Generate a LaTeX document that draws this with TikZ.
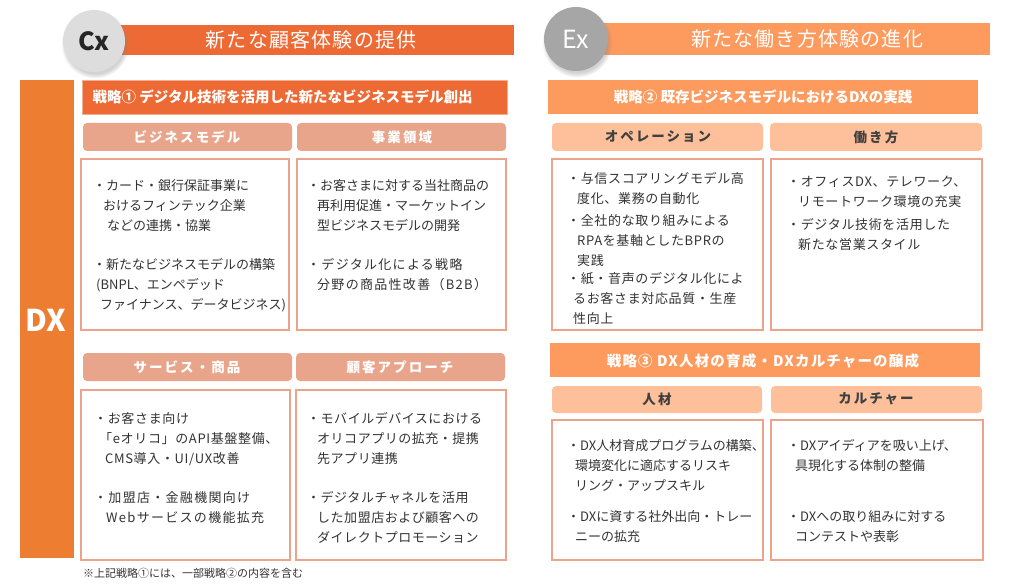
\documentclass[tikz,border=0pt]{standalone}
\usepackage{fontspec}
\setmainfont{Noto Sans CJK JP}
\usetikzlibrary{shadows}
\definecolor{cxbar}{HTML}{EE6A35}
\definecolor{dxbar}{HTML}{ED7D31}
\definecolor{salmon}{HTML}{E8A58B}
\definecolor{boxline}{HTML}{EBA48B}
\definecolor{exbar}{HTML}{FD9A5E}
\definecolor{peach}{HTML}{FEC09A}
\definecolor{subtext}{HTML}{404040}
\definecolor{bodytext}{HTML}{333333}
\definecolor{cxcircle}{HTML}{DDDDDD}
\definecolor{excircle}{HTML}{A6A6A6}
\newcommand\lsp[1]{\addfontfeatures{LetterSpace=#1}}
\begin{document}
\begin{tikzpicture}[x=1pt,y=-1pt,
  bodytxt/.style={anchor=north west, inner sep=0pt, align=left, text=bodytext, font=\fontsize{13}{20}\selectfont},
  subbox/.style={rounded corners=4pt, draw=none},
  contentbox/.style={draw=boxline, line width=2.8pt, fill=white},
  subwhite/.style={text=white, font=\fontsize{13.5}{16}\selectfont\bfseries\lsp{15}},
  subgray/.style={text=subtext, font=\fontsize{13.5}{16}\selectfont\bfseries\lsp{15}},
  strattxt/.style={text=white, font=\fontsize{14.5}{17}\selectfont\bfseries},
  titletxt/.style={text=white, font=\fontsize{20}{24}\selectfont\lsp{6}},
  circ/.style={circle, inner sep=0pt, minimum size=#1, circular drop shadow={shadow xshift=1pt, shadow yshift=-3pt, opacity=0.35}},
]
\useasboundingbox (0,0) rectangle (1011,588);
\fill[white] (0,0) rectangle (1011,588);

% ===== Left (Cx) header =====
\fill[cxbar] (110,25) rectangle (514,55);
\node[titletxt] (cxtitle) at (311,40) {新たな顧客体験の提供};
\node[circ=62pt, fill=cxcircle, text=black!85, font=\fontsize{25}{28}\selectfont\bfseries] (cx) at (94,41) {Cx};

% ===== Right (Ex) header =====
\fill[exbar] (590,23) rectangle (990,55);
\node[titletxt] (extitle) at (807,39) {新たな働き方体験の進化};
\node[circ=64pt, fill=excircle, text=white, font=\fontsize{25}{28}\selectfont] (ex) at (576,39) {Ex};

% ===== DX vertical bar =====
\fill[dxbar] (20,80) rectangle (74,558);
\node[text=white, font=\fontsize{30}{34}\selectfont\bfseries] (dx) at (46,320) {DX};

% ===== Strategy 1 =====
\fill[cxbar] (82,80) rectangle (507,114);
\draw[cxbar!55!white, line width=0.6pt] (82,80) rectangle (507,114);
\node[strattxt, anchor=west] (s1) at (89,97) {戦略① デジタル技術を活用した新たなビジネスモデル創出};

\fill[salmon, subbox] (83,123) rectangle (292,151);
\fill[salmon, subbox] (297,123) rectangle (506,151);
\node[subwhite] (h1) at (187,137) {ビジネスモデル};
\node[subwhite] (h2) at (402,137) {事業領域};

\draw[contentbox] (81,159) rectangle (289,330);
\draw[contentbox] (297,159) rectangle (506,330);

\node[bodytxt] (a1) at (93,179.5) {・カード・銀行保証事業に\\\hspace*{10pt}おけるフィンテック企業\\\hspace*{14pt}などの連携・協業};
\node[bodytxt] (a2) at (93,258.5) {・新たなビジネスモデルの構築\\\hspace*{3pt}(BNPL、エンペデッド\\\hspace*{7pt}ファイナンス、データビジネス)};
\node[bodytxt] (b1) at (307,179.5) {・お客さまに対する当社商品の\\\hspace*{10pt}再利用促進・マーケットイン\\\hspace*{10pt}型ビジネスモデルの開発};
\node[bodytxt, font=\fontsize{13}{20}\selectfont\lsp{10}] (b2) at (307,258.5) {・デジタル化による戦略\\\hspace*{10pt}分野の商品性改善（B2B）};

\fill[salmon, subbox] (83,353) rectangle (292,381);
\fill[salmon, subbox] (296,353) rectangle (505,381);
\node[subwhite] (h3) at (187,367) {サービス・商品};
\node[subwhite] (h4) at (400,367) {顧客アプローチ};

\draw[contentbox] (81,390) rectangle (290,560);
\draw[contentbox] (296,390) rectangle (506,560);

\node[bodytxt, font=\fontsize{13}{20}\selectfont\lsp{5}] (c1) at (94,412.5) {・お客さま向け\\\hspace*{5pt}「eオリコ」のAPI基盤整備、\\\hspace*{11pt}CMS導入・UI/UX改善};
\node[bodytxt, font=\fontsize{13}{20}\selectfont\lsp{10}] (c2) at (94,491.5) {・加盟店・金融機関向け\\\hspace*{12pt}Webサービスの機能拡充};
\node[bodytxt, font=\fontsize{13}{20}\selectfont\lsp{4}] (d1) at (307,412.5) {・モバイルデバイスにおける\\\hspace*{10pt}オリコアプリの拡充・提携\\\hspace*{10pt}先アプリ連携};
\node[bodytxt, font=\fontsize{13}{20}\selectfont\lsp{4}] (d2) at (307,491.5) {・デジタルチャネルを活用\\\hspace*{10pt}した加盟店および顧客への\\\hspace*{10pt}ダイレクトプロモーション};

\node[anchor=west, inner sep=0pt, text=bodytext, font=\fontsize{11}{13}\selectfont] (note) at (83,573) {※上記戦略①には、一部戦略②の内容を含む};

% ===== Strategy 2 =====
\fill[exbar] (548,80) rectangle (978,114);
\node[strattxt] (s2) at (763,97) {戦略② 既存ビジネスモデルにおけるDXの実践};

\fill[peach, subbox] (552,123) rectangle (763,151);
\fill[peach, subbox] (770,123) rectangle (982,151);
\node[subgray] (h5) at (658,137) {オペレーション};
\node[subgray] (h6) at (876,137) {働き方};

\draw[contentbox] (552,159) rectangle (763,330);
\draw[contentbox] (771,159) rectangle (982,330);

\node[bodytxt, font=\fontsize{13}{20}\selectfont\lsp{5}] (e1) at (567,172.5) {・与信スコアリングモデル高\\\hspace*{10pt}度化、業務の自動化};
\node[bodytxt, font=\fontsize{13}{20}\selectfont\lsp{5}] (e2) at (567,214.5) {・全社的な取り組みによる\\\hspace*{10pt}RPAを基軸としたBPRの\\\hspace*{10pt}実践};
\node[bodytxt, font=\fontsize{13}{20}\selectfont\lsp{5}] (e3) at (567,272.5) {・紙・音声のデジタル化によ\\\hspace*{6pt}るお客さま対応品質・生産\\\hspace*{6pt}性向上};
\node[bodytxt, font=\fontsize{13}{20}\selectfont\lsp{5}] (f1) at (787,175.5) {・オフィスDX、テレワーク、\\\hspace*{11pt}リモートワーク環境の充実};
\node[bodytxt, font=\fontsize{13}{20}\selectfont\lsp{5}] (f2) at (787,218.5) {・デジタル技術を活用した\\\hspace*{11pt}新たな営業スタイル};

% ===== Strategy 3 =====
\fill[exbar] (550,343) rectangle (980,377);
\node[strattxt, font=\fontsize{14.5}{17}\selectfont\bfseries\lsp{8}] (s3) at (763,361) {戦略③ DX人材の育成・DXカルチャーの醸成};

\fill[peach, subbox] (552,386) rectangle (762,413);
\fill[peach, subbox] (771,386) rectangle (982,413);
\node[subgray] (h7) at (657,399) {人材};
\node[subgray] (h8) at (876,399) {カルチャー};

\draw[contentbox] (552,420) rectangle (763,560);
\draw[contentbox] (771,420) rectangle (983,560);

\node[bodytxt] (g1) at (567,439.5) {・DX人材育成プログラムの構築、\\\hspace*{8pt}環境変化に適応するリスキ\\\hspace*{8pt}リング・アップスキル};
\node[bodytxt] (g2) at (567,510.5) {・DXに資する社外出向・トレー\\\hspace*{8pt}ニーの拡充};
\node[bodytxt] (k1) at (787,439.5) {・DXアイディアを吸い上げ、\\\hspace*{8pt}具現化する体制の整備};
\node[bodytxt] (k2) at (787,510.5) {・DXへの取り組みに対する\\\hspace*{8pt}コンテストや表彰};
\end{tikzpicture}
\end{document}
